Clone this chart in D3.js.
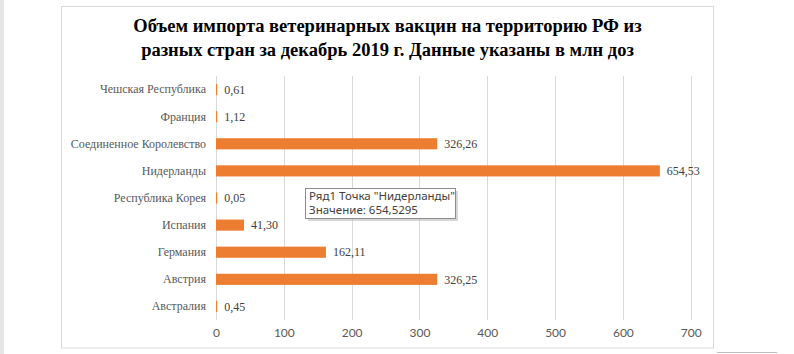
<!DOCTYPE html>
<html><head><meta charset="utf-8">
<script src="https://cdn.jsdelivr.net/npm/d3@7"></script>
<style>body{margin:0;background:#fff}svg{display:block}</style>
</head><body>
<svg id="c" width="794" height="354"></svg>
<script>
const categories = ["Чешская Республика","Франция","Соединенное Королевство","Нидерланды","Республика Корея","Испания","Германия","Австрия","Австралия"];
const values = [0.61, 1.12, 326.26, 654.53, 0.05, 41.30, 162.11, 326.25, 0.45];
const labels = ["0,61","1,12","326,26","654,53","0,05","41,30","162,11","326,25","0,45"];
const ticks = [0,100,200,300,400,500,600,700];
const titleLines = ["Объем импорта ветеринарных вакцин на территорию РФ из","разных стран за декабрь 2019 г. Данные указаны в млн доз"];
const tooltipLines = ["Ряд1 Точка \"Нидерланды\"","Значение: 654,5295"];

const svg = d3.select("#c");
svg.append("rect").attr("x",0).attr("y",0).attr("width",4).attr("height",354).attr("fill","#e6e6e6");
svg.append("rect").attr("x",61.5).attr("y",6.5).attr("width",652).attr("height",341.5)
  .attr("fill","#fff").attr("stroke","#d9d9d9");
svg.append("line").attr("x1",717).attr("x2",777).attr("y1",352.5).attr("y2",352.5).attr("stroke","#bfbfbf");

const x = d3.scaleLinear().domain([0,700]).range([216,690.7]);
const y = d3.scaleBand().domain(categories).range([76,320]).paddingInner(0.59).paddingOuter(0.295);

svg.append("g").selectAll("line").data(ticks).join("line")
  .attr("x1",d=>Math.round(x(d))+0.5).attr("x2",d=>Math.round(x(d))+0.5)
  .attr("y1",76).attr("y2",320).attr("stroke","#d9d9d9");

svg.append("g").selectAll("text").data(titleLines).join("text")
  .attr("x",387.5).attr("y",(d,i)=>32+i*24).attr("text-anchor","middle")
  .attr("font-family","Liberation Serif").attr("font-weight","bold").attr("font-size",18.5)
  .attr("fill","#000").text(d=>d);

svg.append("g").selectAll("rect").data(values).join("rect")
  .attr("x",x(0)).attr("y",(d,i)=>y(categories[i]))
  .attr("width",d=>Math.max(1.2,x(d)-x(0))).attr("height",y.bandwidth())
  .attr("fill","#ED7D31");

svg.append("g").selectAll("text").data(values).join("text")
  .attr("x",d=>Math.max(x(0)+1.2,x(d))+7).attr("y",(d,i)=>y(categories[i])+y.bandwidth()/2)
  .attr("dy","0.35em").attr("font-family","Liberation Serif").attr("font-size",12)
  .attr("fill","#404040").text((d,i)=>labels[i]);

const yAxis = d3.axisLeft(y).tickSize(0).tickPadding(10);
const gy = svg.append("g").attr("transform","translate(216,0)").call(yAxis);
gy.select(".domain").remove();
gy.selectAll("text").attr("font-family","Liberation Serif").attr("font-size",12).attr("fill","#595959");

const xAxis = d3.axisBottom(x).tickValues(ticks).tickSize(0).tickPadding(0).tickFormat(d3.format("d"));
const gx = svg.append("g").attr("transform","translate(0,328)").call(xAxis);
gx.select(".domain").remove();
gx.selectAll("text").attr("font-family","Lato").attr("font-size",12).attr("fill","#595959").attr("dy","0.71em");

const tt = svg.append("g").attr("transform","translate(305,188)");
tt.append("rect").attr("x",3).attr("y",3).attr("width",150).attr("height",30).attr("fill","#bdbdbd").attr("opacity",0.6);
tt.append("rect").attr("x",0.5).attr("y",0.5).attr("width",150).attr("height",30).attr("fill","#fff").attr("stroke","#8c8c8c");
tt.selectAll("text").data(tooltipLines).join("text")
  .attr("x",4).attr("y",(d,i)=>12+i*14).attr("font-family","Noto Sans, DejaVu Sans").attr("font-size",11.5)
  .attr("fill","#404040").text(d=>d);
</script>
</body></html>
